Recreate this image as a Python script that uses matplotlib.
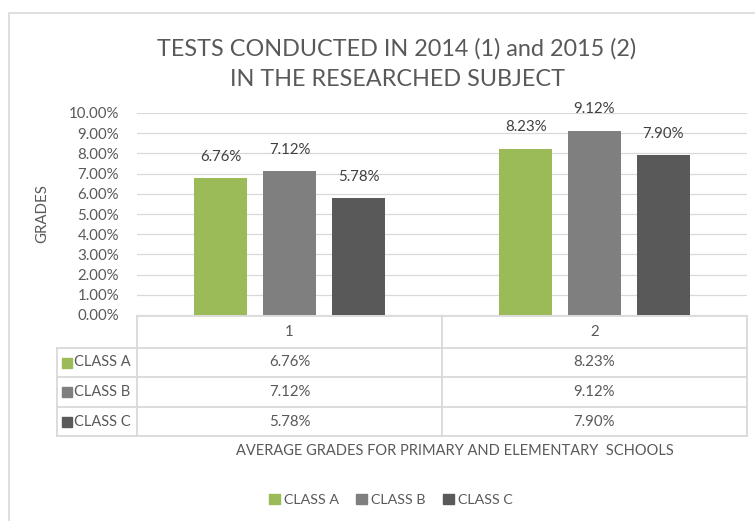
import matplotlib
matplotlib.use("Agg")
import matplotlib.pyplot as plt
from matplotlib.patches import Rectangle
import numpy as np

plt.rcParams['font.family'] = ['Lato', 'DejaVu Sans']

categories = ["1", "2"]
series_names = ["CLASS A", "CLASS B", "CLASS C"]
class_a = [6.76, 8.23]
class_b = [7.12, 9.12]
class_c = [5.78, 7.90]
series_values = [class_a, class_b, class_c]
colors = ["#9BBB59", "#7F7F7F", "#595959"]
yticks = [0, 1, 2, 3, 4, 5, 6, 7, 8, 9, 10]
title = "TESTS CONDUCTED IN 2014 (1) and 2015 (2)\nIN THE RESEARCHED SUBJECT"
xlabel = "AVERAGE GRADES FOR PRIMARY AND ELEMENTARY  SCHOOLS"
ylabel = "GRADES"

W, H = 755, 521
DPI = 100
TXT = "#595959"
GRID = "#d9d9d9"

fig = plt.figure(figsize=(W / DPI, H / DPI), dpi=DPI)

def fx(px):
    return px / W

def fy(py):
    return 1 - py / H

# chart border
fig.add_artist(Rectangle((fx(9), fy(530)), fx(760) - fx(9), fy(13) - fy(530),
                         transform=fig.transFigure, fill=False, edgecolor=GRID, lw=1.2))

# main axes
ax = fig.add_axes([fx(137), fy(315), fx(747) - fx(137), fy(113) - fy(315)])
x = np.arange(len(categories))
bw = 0.174
step = 0.226
for i, (name, vals, c) in enumerate(zip(series_names, series_values, colors)):
    pos = x + (i - 1) * step
    ax.bar(pos, vals, width=bw, color=c, zorder=3, label=name)
    for p, v in zip(pos, vals):
        ax.text(p, v + 0.72, f"{v:.2f}%", ha="center", va="bottom", fontsize=10.8, color="#404040")

ax.set_xlim(-0.5, 1.5)
ax.set_ylim(0, 10)
ax.set_yticks(yticks)
ax.set_yticklabels([f"{t:.2f}%" for t in yticks], fontsize=10.8, color=TXT)
ax.set_xticks([])
ax.tick_params(axis="y", length=0, pad=13)
ax.grid(axis="y", color=GRID, lw=0.9, zorder=0)
for s in ax.spines.values():
    s.set_visible(False)

fig.text(fx(42), fy(214), ylabel, rotation=90, ha="center", va="center", fontsize=10.8, color=TXT)
fig.text(fx(397), fy(64), title, ha="center", va="center", fontsize=16.8, color=TXT,
         linespacing=1.5)

# data table
tab = fig.add_axes([fx(137), fy(436), fx(747) - fx(137), fy(316) - fy(436)])
tab.set_xlim(-0.5, 1.5)
tab.set_ylim(120, 0)
tab.axis("off")
rows = [0, 32, 61, 91, 120]
left = -0.5 - (137 - 57) / 305.0
lc = dict(color=GRID, lw=1.3, clip_on=False)
tab.plot([-0.5, 1.5], [rows[0], rows[0]], **lc)
for r in rows[1:]:
    tab.plot([left, 1.5], [r, r], **lc)
tab.plot([-0.5, -0.5], [rows[0], rows[-1]], **lc)
tab.plot([0.5, 0.5], [rows[0], rows[-1]], **lc)
tab.plot([1.5, 1.5], [rows[0], rows[-1]], **lc)
tab.plot([left, left], [rows[1], rows[-1]], **lc)
for j, cat in enumerate(categories):
    tab.text(x[j], (rows[0] + rows[1]) / 2, cat, ha="center", va="center", fontsize=10.8, color=TXT)
for i, (name, vals, c) in enumerate(zip(series_names, series_values, colors)):
    yc = (rows[i + 1] + rows[i + 2]) / 2
    tab.add_patch(Rectangle((left + 0.017, yc - 5), 0.033, 10, color=c, clip_on=False))
    tab.text(left + 0.055, yc, name, ha="left", va="center", fontsize=10.5, color=TXT)
    for j, v in enumerate(vals):
        tab.text(x[j], yc, f"{v:.2f}%", ha="center", va="center", fontsize=10.8, color=TXT)

fig.text(fx(455), fy(451), xlabel, ha="center", va="center", fontsize=10.5, color=TXT)

handles = [Rectangle((0, 0), 1, 1, color=c) for c in colors]
fig.legend(handles, series_names, loc="center", bbox_to_anchor=(fx(391), fy(500)),
           ncol=3, frameon=False, fontsize=10.3, handlelength=0.75, handleheight=0.75,
           handletextpad=0.3, columnspacing=1.2, labelcolor=TXT)

fig.savefig("out.png", dpi=DPI)
